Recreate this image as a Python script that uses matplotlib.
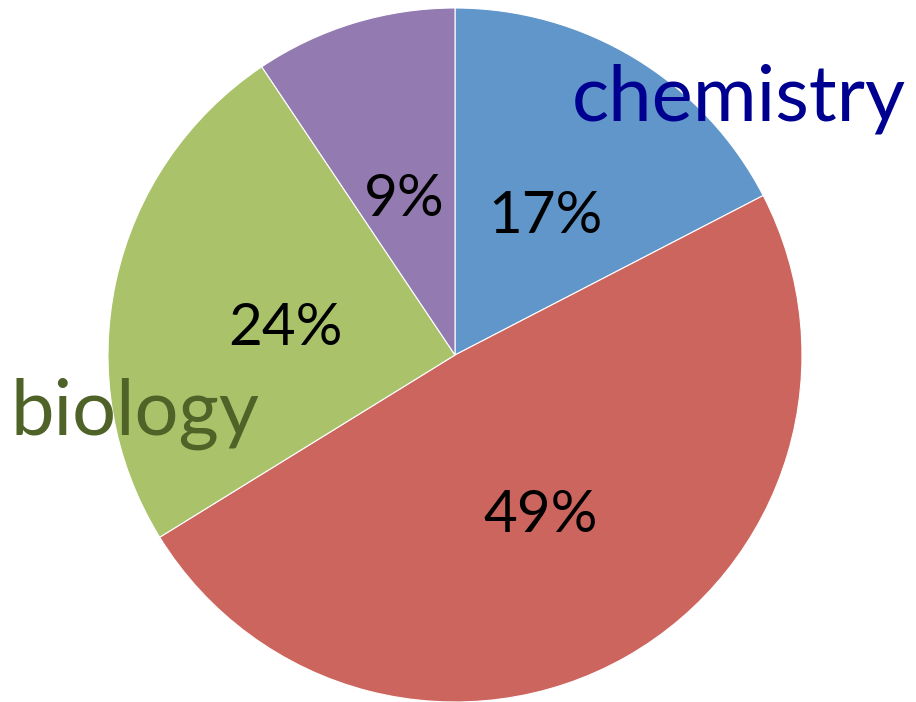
import matplotlib.pyplot as plt

# Share of subjects (clockwise from 12 o'clock)
subjects = ['chemistry', 'other', 'biology', 'physics']
shares = [17.4, 48.8, 24.4, 9.4]
colors = ['#6096C9', '#CD655F', '#AAC36B', '#937AB0']

fig = plt.figure(figsize=(9.16, 7.02), dpi=100)
ax = fig.add_axes([0, 0, 1, 1])

wedges, texts, autotexts = ax.pie(
    shares, colors=colors, startangle=90, counterclock=False,
    center=(455, 347), radius=347, frame=True,
    autopct=lambda p: f'{p:.0f}%', pctdistance=0.5,
    wedgeprops=dict(edgecolor='white', linewidth=0.8),
    textprops=dict(fontsize=42, family='Lato', color='black'))
for t in autotexts:
    x, y = t.get_position()
    t.set_position((x, y - 10))

ax.set_xlim(0, 916)
ax.set_ylim(0, 702)
ax.axis('off')

ax.text(739, 582, 'chemistry', fontsize=56, family='Lato', color='#000090',
        ha='center', va='baseline')
ax.text(135, 267, 'biology', fontsize=56, family='Lato', color='#4F6228',
        ha='center', va='baseline')

fig.savefig('out.png', dpi=100)
